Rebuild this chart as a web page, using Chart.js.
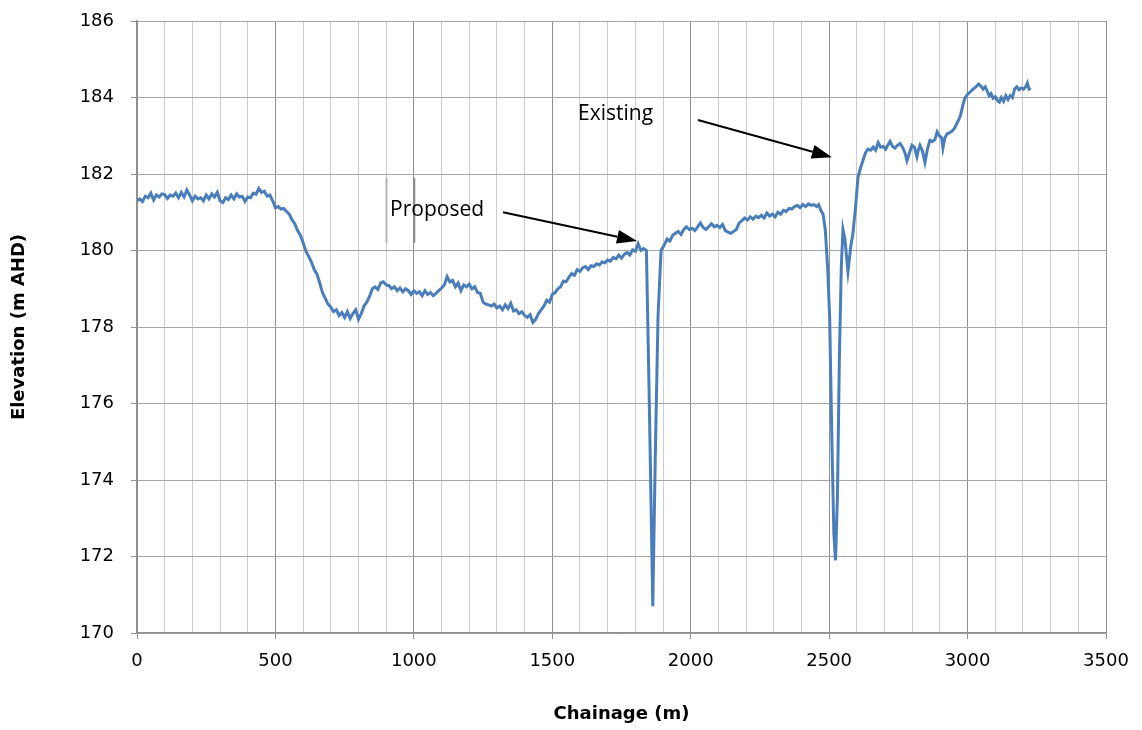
<!DOCTYPE html>
<html>
<head>
<meta charset="utf-8">
<script src="https://cdn.jsdelivr.net/npm/chart.js@4/dist/chart.umd.min.js"></script>
<style>
  html, body { margin: 0; padding: 0; background: #fff; }
  #wrap { width: 1142px; height: 730px; }
</style>
</head>
<body>
<div id="wrap"><canvas id="profile"></canvas></div>
<script>
// long section: chainage (m) vs ground elevation (m AHD)
const chainage = [
  0, 10, 20, 30, 40, 50, 60, 70, 80, 90,
  100, 110, 120, 130, 140, 150, 160, 170, 180, 190,
  200, 210, 220, 230, 240, 250, 260, 270, 280, 290,
  300, 310, 320, 330, 340, 350, 360, 370, 380, 390,
  400, 410, 420, 430, 440, 450, 460, 470, 480, 490,
  500, 510, 520, 530, 540, 550, 560, 570, 580, 590,
  600, 610, 620, 630, 640, 650, 660, 670, 680, 690,
  700, 710, 720, 730, 740, 750, 760, 770, 780, 790,
  800, 810, 820, 830, 840, 850, 860, 870, 880, 890,
  900, 910, 920, 930, 940, 950, 960, 970, 980, 990,
  1000, 1010, 1020, 1030, 1040, 1050, 1060, 1070, 1080, 1090,
  1100, 1110, 1120, 1130, 1140, 1150, 1160, 1170, 1180, 1190,
  1200, 1210, 1220, 1230, 1240, 1250, 1260, 1270, 1280, 1290,
  1300, 1310, 1320, 1330, 1340, 1350, 1360, 1370, 1380, 1390,
  1400, 1410, 1420, 1430, 1440, 1450, 1460, 1470, 1480, 1490,
  1500, 1510, 1520, 1530, 1540, 1550, 1560, 1570, 1580, 1590,
  1600, 1610, 1620, 1630, 1640, 1650, 1660, 1670, 1680, 1690,
  1700, 1710, 1720, 1730, 1740, 1750, 1760, 1770, 1780, 1790,
  1800, 1810, 1820, 1830, 1840, 1850, 1863, 1872, 1882, 1893,
  1905, 1915, 1925, 1935, 1945, 1955, 1965, 1975, 1985, 1995,
  2005, 2015, 2025, 2035, 2045, 2055, 2065, 2075, 2085, 2095,
  2105, 2115, 2125, 2135, 2145, 2155, 2165, 2175, 2185, 2195,
  2205, 2215, 2225, 2235, 2245, 2255, 2265, 2275, 2285, 2295,
  2305, 2315, 2325, 2335, 2345, 2355, 2365, 2375, 2385, 2395,
  2405, 2415, 2425, 2435, 2445, 2455, 2462, 2470, 2478, 2486,
  2495, 2502, 2510, 2517, 2523, 2530, 2537, 2544, 2550, 2557,
  2568, 2578, 2586, 2595, 2604, 2613, 2622, 2631, 2640, 2650,
  2659, 2668, 2677, 2686, 2695, 2704, 2712, 2720, 2729, 2738,
  2747, 2756, 2765, 2774, 2781, 2790, 2799, 2808, 2817, 2823,
  2828, 2837, 2846, 2855, 2864, 2873, 2882, 2890, 2898, 2906,
  2911, 2918, 2926, 2935, 2944, 2953, 2960, 2967, 2975, 2983,
  2990, 3000, 3010, 3020, 3030, 3040, 3048, 3056, 3064, 3072,
  3078, 3085, 3092, 3100, 3108, 3115, 3122, 3130, 3138, 3146,
  3154, 3162, 3170, 3178, 3186, 3194, 3202, 3210, 3216, 3222,
  3228
];

const elevation = [
  181.30, 181.35, 181.28, 181.42, 181.38, 181.50, 181.32, 181.45, 181.40, 181.48,
  181.46, 181.36, 181.45, 181.42, 181.50, 181.38, 181.52, 181.40, 181.58, 181.45,
  181.30, 181.42, 181.35, 181.38, 181.30, 181.45, 181.35, 181.48, 181.40, 181.52,
  181.30, 181.25, 181.38, 181.33, 181.45, 181.35, 181.48, 181.40, 181.42, 181.28,
  181.40, 181.38, 181.50, 181.47, 181.62, 181.52, 181.55, 181.42, 181.45, 181.30,
  181.12, 181.15, 181.08, 181.10, 181.02, 180.95, 180.80, 180.70, 180.52, 180.40,
  180.20, 179.98, 179.85, 179.70, 179.50, 179.38, 179.15, 178.90, 178.75, 178.60,
  178.52, 178.40, 178.45, 178.30, 178.38, 178.25, 178.40, 178.22, 178.35, 178.45,
  178.20, 178.35, 178.55, 178.65, 178.80, 179.00, 179.05, 178.98, 179.15, 179.18,
  179.10, 179.08, 179.00, 179.05, 178.95, 179.02, 178.92, 179.00, 178.95, 178.85,
  178.95, 178.88, 178.92, 178.82, 178.95, 178.85, 178.90, 178.82, 178.88, 178.95,
  179.02, 179.10, 179.32, 179.18, 179.22, 179.05, 179.15, 178.95, 179.10, 179.05,
  179.12, 179.00, 179.05, 178.90, 178.88, 178.65, 178.60, 178.58, 178.55, 178.60,
  178.50, 178.55, 178.45, 178.58, 178.48, 178.62, 178.42, 178.45, 178.35, 178.40,
  178.30, 178.25, 178.32, 178.12, 178.20, 178.35, 178.45, 178.55, 178.70, 178.65,
  178.85, 178.90, 179.00, 179.05, 179.20, 179.18, 179.30, 179.40, 179.35, 179.50,
  179.45, 179.55, 179.58, 179.50, 179.60, 179.58, 179.65, 179.62, 179.70, 179.68,
  179.75, 179.72, 179.82, 179.78, 179.88, 179.80, 179.90, 179.95, 179.88, 180.02,
  179.98, 180.18, 180.00, 180.05, 180.00, 176.20, 170.70, 174.60, 178.30, 180.00,
  180.15, 180.30, 180.25, 180.40, 180.45, 180.50, 180.42, 180.55, 180.62, 180.55,
  180.58, 180.52, 180.62, 180.72, 180.60, 180.55, 180.62, 180.70, 180.62, 180.66,
  180.60, 180.68, 180.52, 180.48, 180.45, 180.50, 180.55, 180.72, 180.78, 180.85,
  180.80, 180.88, 180.82, 180.90, 180.86, 180.92, 180.85, 180.98, 180.90, 180.95,
  180.88, 181.00, 180.95, 181.05, 181.02, 181.10, 181.08, 181.15, 181.18, 181.12,
  181.20, 181.15, 181.22, 181.18, 181.20, 181.15, 181.20, 181.05, 180.95, 180.55,
  179.50, 178.20, 175.00, 172.60, 171.90, 173.60, 177.20, 179.60, 180.55, 180.30,
  179.45, 180.10, 180.45, 181.10, 181.90, 182.15, 182.35, 182.55, 182.65, 182.62,
  182.70, 182.62, 182.82, 182.70, 182.72, 182.65, 182.75, 182.85, 182.72, 182.68,
  182.75, 182.80, 182.70, 182.55, 182.35, 182.55, 182.75, 182.70, 182.45, 182.65,
  182.75, 182.60, 182.30, 182.65, 182.88, 182.85, 182.90, 183.10, 183.00, 182.95,
  182.68, 182.95, 183.05, 183.08, 183.12, 183.20, 183.30, 183.40, 183.55, 183.80,
  183.98, 184.08, 184.15, 184.22, 184.28, 184.35, 184.30, 184.22, 184.28, 184.15,
  184.05, 184.10, 183.98, 184.02, 183.92, 183.88, 184.00, 183.90, 184.05, 183.95,
  184.05, 184.00, 184.22, 184.28, 184.20, 184.25, 184.22, 184.28, 184.38, 184.22,
  184.25
];

// callouts: label position, arrow tail and arrow tip, all in chainage / elevation
const callouts = [
  { text: "Proposed", at: [914, 181.06], tail: [1322, 181.0], tip: [1806, 180.25] },
  { text: "Existing", at: [1593, 183.57], tail: [2026, 183.41], tip: [2510, 182.44] }
];

// two short grey marks left over around the "Proposed" label
const markers = [
  { x: 900, from: 181.9, to: 180.2, color: "#b4b4b4", width: 2 },
  { x: 1000, from: 181.9, to: 180.2, color: "#8a8a8a", width: 1.5 }
];

const points = chainage.map((c, i) => ({ x: c, y: elevation[i] }));

const calloutPlugin = {
  id: "callouts",
  afterDatasetsDraw(chart) {
    const ctx = chart.ctx;
    const xs = chart.scales.x;
    const ys = chart.scales.y;

    markers.forEach((m) => {
      const px = Math.round(xs.getPixelForValue(m.x)) + 0.5;
      ctx.save();
      ctx.strokeStyle = m.color;
      ctx.lineWidth = m.width;
      ctx.beginPath();
      ctx.moveTo(px, ys.getPixelForValue(m.from));
      ctx.lineTo(px, ys.getPixelForValue(m.to));
      ctx.stroke();
      ctx.restore();
    });

    callouts.forEach((c) => {
      const tx = xs.getPixelForValue(c.at[0]);
      const ty = ys.getPixelForValue(c.at[1]);
      const x0 = xs.getPixelForValue(c.tail[0]);
      const y0 = ys.getPixelForValue(c.tail[1]);
      const x1 = xs.getPixelForValue(c.tip[0]);
      const y1 = ys.getPixelForValue(c.tip[1]);
      const ang = Math.atan2(y1 - y0, x1 - x0);
      const headLen = 20;
      const headHalf = 7;

      ctx.save();
      ctx.fillStyle = "#000";
      ctx.font = "21px 'Open Sans'";
      ctx.textAlign = "left";
      ctx.textBaseline = "middle";
      ctx.fillText(c.text, tx, ty);

      // shaft stops at the base of the head
      const bx = x1 - headLen * Math.cos(ang);
      const by = y1 - headLen * Math.sin(ang);
      ctx.strokeStyle = "#000";
      ctx.lineWidth = 2;
      ctx.beginPath();
      ctx.moveTo(x0, y0);
      ctx.lineTo(bx, by);
      ctx.stroke();

      ctx.beginPath();
      ctx.moveTo(x1, y1);
      ctx.lineTo(bx + headHalf * Math.sin(ang), by - headHalf * Math.cos(ang));
      ctx.lineTo(bx - headHalf * Math.sin(ang), by + headHalf * Math.cos(ang));
      ctx.closePath();
      ctx.fill();
      ctx.restore();
    });
  }
};

const tickFont = { family: "'DejaVu Sans'", size: 18 };
const titleFont = { family: "'DejaVu Sans'", size: 18, weight: "bold" };

new Chart(document.getElementById("profile"), {
  type: "line",
  data: {
    datasets: [
      {
        label: "Ground",
        data: points,
        borderColor: "#4a7ebb",
        borderWidth: 3,
        pointRadius: 0,
        tension: 0,
        fill: false
      }
    ]
  },
  options: {
    responsive: true,
    maintainAspectRatio: false,
    animation: false,
    parsing: false,
    layout: { padding: { top: 21, right: 36, left: 0, bottom: 0 } },
    plugins: {
      legend: { display: false },
      tooltip: { enabled: false }
    },
    scales: {
      x: {
        type: "linear",
        min: 0,
        max: 3500,
        afterFit: (scale) => {
          scale.height = 97;
          scale.paddingLeft = 0;
          scale.paddingRight = 0;
        },
        ticks: {
          stepSize: 100,
          autoSkip: false,
          maxRotation: 0,
          padding: 12,
          color: "#000",
          font: tickFont,
          callback: (v) => (v % 500 === 0 ? v : "")
        },
        grid: {
          tickLength: 6,
          color: (c) => (c.tick && c.tick.value % 500 === 0 ? "#8f8f8f" : "#cdcdcd"),
          tickColor: (c) => (c.tick && c.tick.value % 500 === 0 ? "#8f8f8f" : "rgba(0,0,0,0)")
        },
        border: { color: "#8f8f8f", width: 1.5 },
        title: {
          display: true,
          text: "Chainage (m)",
          color: "#000",
          font: titleFont,
          padding: { top: 0, bottom: 5 }
        }
      },
      y: {
        min: 170,
        max: 186,
        afterFit: (scale) => {
          scale.width = 137;
          scale.paddingTop = 0;
          scale.paddingBottom = 0;
        },
        ticks: {
          stepSize: 2,
          padding: 17,
          color: "#000",
          font: tickFont
        },
        grid: {
          tickLength: 6,
          color: "#a6a6a6",
          tickColor: "#8f8f8f"
        },
        border: { color: "#8f8f8f", width: 1.5 },
        title: {
          display: true,
          text: "Elevation (m AHD)",
          color: "#000",
          font: titleFont,
          padding: { top: 9, bottom: 0 }
        }
      }
    }
  },
  plugins: [calloutPlugin]
});
</script>
</body>
</html>
